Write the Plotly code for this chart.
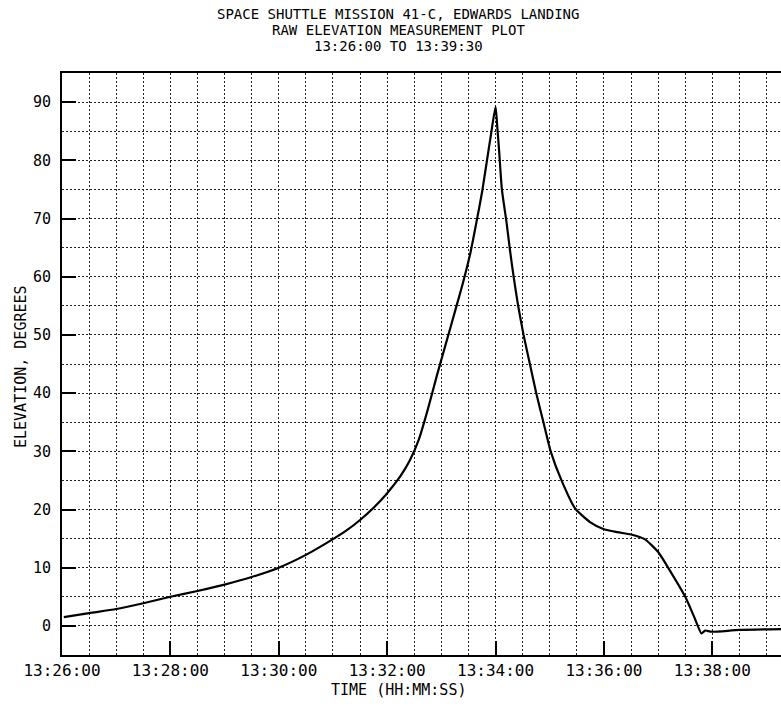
import plotly.graph_objects as go

DATE = "1984-04-13 "

times = [
    "13:26:02", "13:26:30", "13:27:00", "13:27:30", "13:28:00", "13:28:30",
    "13:29:00", "13:29:30", "13:30:00", "13:30:30", "13:31:00", "13:31:15",
    "13:31:30", "13:31:45", "13:32:00", "13:32:15", "13:32:25", "13:32:35",
    "13:32:45", "13:32:55", "13:33:05", "13:33:15", "13:33:24", "13:33:32",
    "13:33:39", "13:33:45", "13:33:50", "13:33:55", "13:34:00", "13:34:02",
    "13:34:04", "13:34:07", "13:34:12", "13:34:16", "13:34:20", "13:34:25",
    "13:34:31", "13:34:38", "13:34:45", "13:34:53", "13:35:01", "13:35:13",
    "13:35:28", "13:35:45", "13:36:00", "13:36:15", "13:36:30", "13:36:45",
    "13:37:00", "13:37:13", "13:37:30", "13:37:40", "13:37:48", "13:37:52",
    "13:37:59", "13:38:30", "13:39:30",
]
elevation = [
    1.5, 2.2, 2.9, 3.9, 5.0, 6.0,
    7.1, 8.4, 10.0, 12.2, 14.9, 16.4,
    18.2, 20.3, 22.8, 25.8, 28.4, 32.0,
    37.2, 43.0, 48.5, 54.0, 59.0, 64.0,
    69.5, 74.5, 79.5, 84.5, 89.2, 85.5,
    81.5, 75.0, 69.5, 64.5, 60.0, 55.0,
    50.0, 45.0, 40.0, 35.0, 30.0, 25.0,
    20.2, 17.8, 16.6, 16.1, 15.7, 14.9,
    12.7, 9.5, 5.0, 1.5, -1.3, -0.8,
    -1.0, -0.7, -0.5,
]

title_lines = [
    "SPACE SHUTTLE MISSION 41-C, EDWARDS LANDING",
    "RAW ELEVATION MEASUREMENT PLOT",
    "13:26:00 TO 13:39:30",
]
x_title = "TIME (HH:MM:SS)"
y_title = "ELEVATION, DEGREES"
x_start = "13:26:00"
x_end = "13:39:16"

FONT = "DejaVu Sans Mono"
L, R, T, B = 62, 0, 73, 52
W, H = 781, 707
PW, PH = W - L - R, H - T - B

fig = go.Figure()
fig.add_trace(go.Scatter(
    x=[DATE + t for t in times], y=elevation, mode="lines",
    line=dict(color="black", width=2.2, shape="spline", smoothing=0.6),
    showlegend=False, hoverinfo="skip",
))

grid_common = dict(gridcolor="#222", gridwidth=1, griddash="2px,2px")

fig.update_layout(
    width=W, height=H,
    margin=dict(l=L, r=R, t=T, b=B),
    paper_bgcolor="white", plot_bgcolor="white",
    font=dict(family=FONT, color="black", size=15),
    xaxis=dict(
        type="date", automargin=False,
        range=[DATE + x_start, DATE + x_end],
        tick0=DATE + "13:26:00", dtick=120000,
        tickformat="%H:%M:%S",
        ticks="inside", ticklen=14, tickwidth=2, tickcolor="black",
        showline=True, linecolor="black", linewidth=2, mirror=True,
        showgrid=True, **grid_common,
        minor=dict(dtick=30000, showgrid=True, ticks="", **grid_common),
        tickfont=dict(family=FONT, size=16),
        zeroline=False,
    ),
    yaxis=dict(
        automargin=False,
        range=[-5, 95], tick0=0, dtick=10,
        ticks="inside", ticklen=14, tickwidth=2, tickcolor="black",
        showline=True, linecolor="black", linewidth=2, mirror=False,
        showgrid=True, **grid_common,
        minor=dict(dtick=5, showgrid=True, ticks="", **grid_common),
        tickfont=dict(family=FONT, size=15),
        ticklabelstandoff=6,
        zeroline=False,
    ),
)

def px_x(x):
    return (x - L) / PW

def px_y(y):
    return (H - B - y) / PH

for i, line in enumerate(title_lines):
    fig.add_annotation(
        text=line, xref="paper", yref="paper",
        x=px_x(398), y=px_y(14 + 16 * i),
        showarrow=False, xanchor="center", yanchor="middle",
        font=dict(family=FONT, size=14, color="black"),
    )

fig.add_annotation(
    text=x_title, xref="paper", yref="paper",
    x=px_x(398), y=px_y(690), showarrow=False,
    xanchor="center", yanchor="middle",
    font=dict(family=FONT, size=15, color="black"),
)
fig.add_annotation(
    text=y_title, xref="paper", yref="paper",
    x=px_x(21), y=px_y(367), showarrow=False, textangle=-90,
    xanchor="center", yanchor="middle",
    font=dict(family=FONT, size=15, color="black"),
)

fig.write_html(
    "out.html",
    config={"displayModeBar": False},
    post_script="document.body.style.margin='0px';document.body.style.overflow='hidden';",
)
